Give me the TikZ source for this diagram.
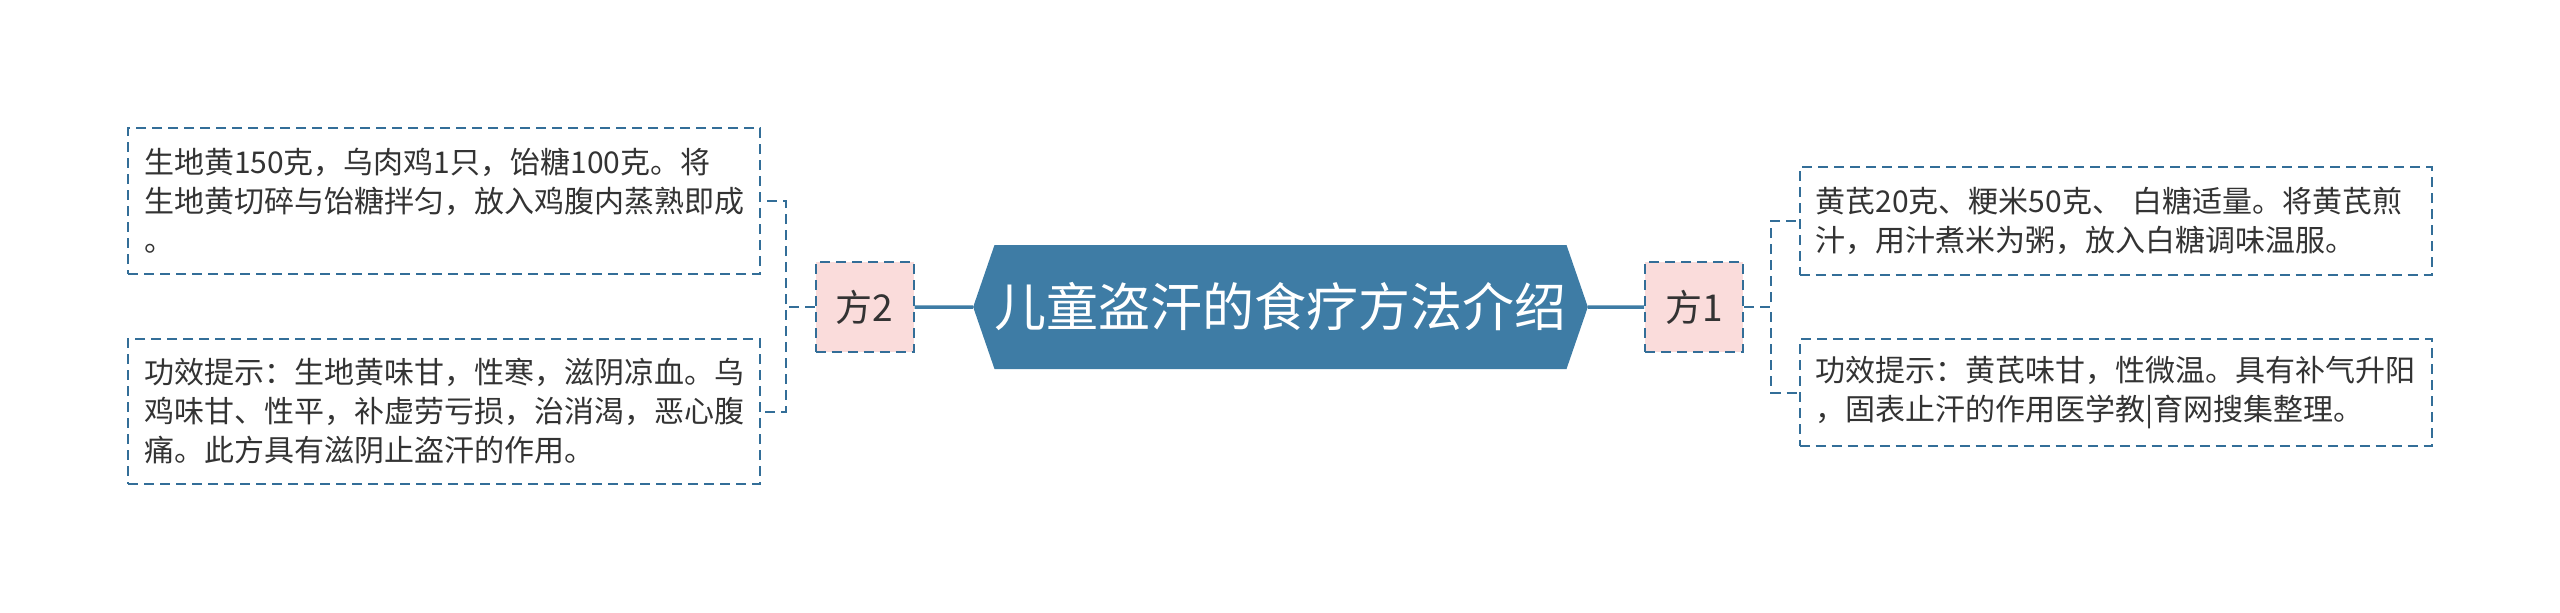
\documentclass[tikz,border=0pt]{standalone}
\usepackage{fontspec}
\setmainfont{Noto Sans CJK SC}
\usetikzlibrary{positioning,shapes.symbols}
\definecolor{rootblue}{HTML}{3E7CA5}
\definecolor{linkblue}{HTML}{336E98}
\definecolor{leafpink}{HTML}{FADCDB}
\definecolor{txtgray}{HTML}{333333}

\begin{document}
\begin{tikzpicture}[x=1pt,y=-1pt,on grid,
  dashed link/.style={line width=2pt,dash pattern=on 10pt off 6pt},
  root/.style={shape=signal,signal to=west and east,signal pointer angle=142,fill=rootblue,text=white,minimum width=577pt,minimum height=124pt,inner sep=0pt,font=\fontsize{52}{56}\selectfont},
  fang/.style={draw=linkblue,dashed link,fill=leafpink,text=txtgray,minimum width=98pt,minimum height=90pt,inner sep=0pt,font=\fontsize{37}{40}\selectfont},
  leaf/.style={draw=linkblue,dashed link,text=txtgray,text width=600pt,inner xsep=16pt,inner ysep=0pt,align=left,font=\fontsize{30}{39}\selectfont},
  tor/.style={to path={-- ++(27pt,0) |- (\tikztotarget)}},
  tol/.style={to path={-- ++(-29pt,0) |- (\tikztotarget)}}]

\useasboundingbox (0,0) rectangle (2560,613);

\node[root](root) at (1280.5,307){儿童盗汗的食疗方法介绍};
\node[fang](f1)[right=413.5pt of root]{方1};
\node[fang](f2)[left=416pt of root]{方2};
\node[leaf,minimum height=108pt](r1)[above right=86pt and 421.5pt of f1]{黄芪20克、粳米50克、 白糖适量。将黄芪煎\\汁，用汁煮米为粥，放入白糖调味温服。};
\node[leaf,minimum height=107pt](r2)[below right=85.5pt and 421.5pt of f1]{功效提示：黄芪味甘，性微温。具有补气升阳\\，固表止汗的作用医学教|育网搜集整理。};
\node[leaf,minimum height=146pt](l1)[above left=106pt and 420.5pt of f2]{生地黄150克，乌肉鸡1只，饴糖100克。将\\生地黄切碎与饴糖拌匀，放入鸡腹内蒸熟即成\\。};
\node[leaf,minimum height=145pt](l2)[below left=104.5pt and 420.5pt of f2]{功效提示：生地黄味甘，性寒，滋阴凉血。乌\\鸡味甘、性平，补虚劳亏损，治消渴，恶心腹\\痛。此方具有滋阴止盗汗的作用。};

\path[rootblue,line width=3.5pt](root)edge(f1)
	(root)edge(f2);
\path[linkblue,dashed link](f1.east)edge[tor](r1.west)
	(f1.east)edge[tor](r2.west)
	(f2.west)edge[tol](l1.east)
	(f2.west)edge[tol](l2.east);

\end{tikzpicture}
\end{document}
